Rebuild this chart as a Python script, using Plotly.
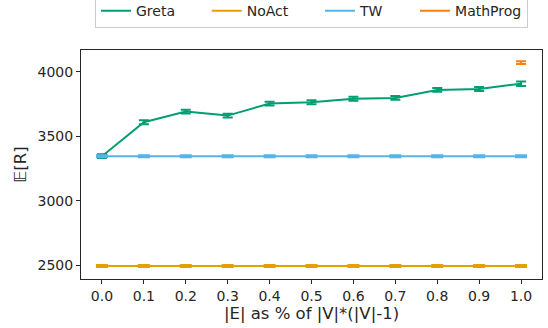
import plotly.graph_objects as go

x_vals = [0.0, 0.1, 0.2, 0.3, 0.4, 0.5, 0.6, 0.7, 0.8, 0.9, 1.0]
greta = [3346, 3609, 3691, 3660, 3753, 3763, 3791, 3797, 3859, 3866, 3907]
greta_err = [15, 15, 15, 15, 15, 15, 15, 15, 15, 15, 18]
noact = [2495] * 11
noact_err = [8] * 11
tw = [3346] * 11
tw_err = [8] * 11
mp_x = [1.0]
mp_y = [4070]
mp_err = [10]

tick_vals = [2500, 3000, 3500, 4000]
x_ticks = x_vals

C_GRETA = "#009E73"
C_NOACT = "#E69F00"
C_TW = "#56B4E9"
C_MP = "#FF7F0E"

NB = "\u00a0" * 6

fig = go.Figure()

def add(name, xs, ys, err, color, ew):
    fig.add_trace(go.Scatter(
        x=xs, y=ys, name=name, mode="lines",
        line=dict(color=color, width=2),
        error_y=dict(type="data", array=err, visible=True, color=color, thickness=2, width=ew),
    ))

add("Greta" + NB, x_vals, greta, greta_err, C_GRETA, 5)
add("NoAct" + NB, x_vals, noact, noact_err, C_NOACT, 6)
add("TW" + NB, x_vals, tw, tw_err, C_TW, 6)
add("MathProg", mp_x, mp_y, mp_err, C_MP, 5)

font = "DejaVu Sans"
fig.update_layout(
    width=548, height=328,
    margin=dict(l=81, r=6, t=50, b=49, autoexpand=False),
    paper_bgcolor="white", plot_bgcolor="white",
    font=dict(family=font, size=14, color="#262626"),
    showlegend=True,
    legend=dict(
        orientation="h", x=0.5, xanchor="center", y=1.095, yanchor="bottom",
        bordercolor="#cccccc", borderwidth=1, font=dict(size=14),
        itemwidth=30,
    ),
    xaxis=dict(
        range=[-0.05, 1.05], tickvals=x_ticks, ticktext=[f"{v:.1f}" for v in x_ticks],
        showgrid=False, zeroline=False, showline=True, linecolor="#262626", linewidth=1,
        mirror=True, ticks="outside", ticklen=4, tickcolor="#262626",
        title=dict(text="|E| as % of |V|*(|V|-1)", font=dict(size=16.5), standoff=4),
    ),
    yaxis=dict(
        range=[2395, 4168], tickvals=tick_vals,
        showgrid=False, zeroline=False, showline=True, linecolor="#262626", linewidth=1,
        mirror=True, ticks="outside", ticklen=4, tickcolor="#262626",
        title=dict(text="𝔼[R]", font=dict(size=16.5), standoff=6),
    ),
)

fig.write_html("out.html")
